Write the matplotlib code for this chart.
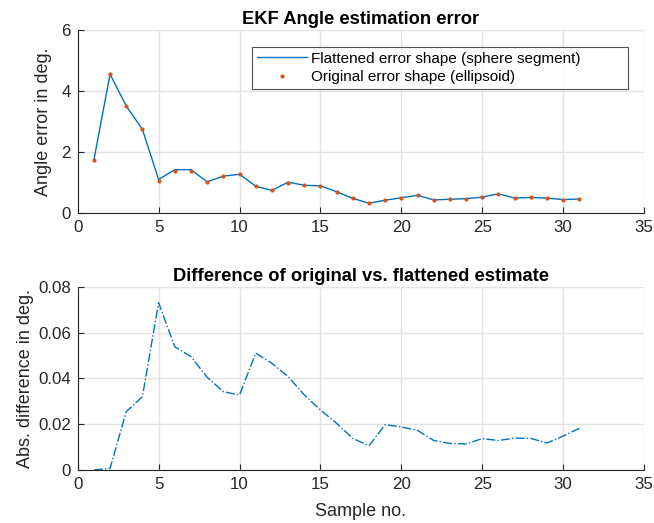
import matplotlib.pyplot as plt
import numpy as np

plt.rcParams['font.family'] = ['Liberation Sans', 'DejaVu Sans']

samples = np.arange(1, 32)

# flattened error shape (sphere segment), deg
flattened = [1.74, 4.55, 3.51, 2.74, 1.10, 1.42, 1.42, 1.02, 1.21, 1.27,
             0.88, 0.74, 1.01, 0.91, 0.89, 0.70, 0.48, 0.32, 0.42, 0.50,
             0.58, 0.43, 0.45, 0.47, 0.52, 0.63, 0.49, 0.51, 0.49, 0.44, 0.46]
# original error shape (ellipsoid), deg
original = [1.74, 4.55, 3.51, 2.74, 1.05, 1.38, 1.39, 1.02, 1.21, 1.27,
            0.875, 0.74, 1.00, 0.91, 0.89, 0.70, 0.48, 0.32, 0.42, 0.50,
            0.58, 0.43, 0.45, 0.47, 0.52, 0.63, 0.49, 0.51, 0.49, 0.44, 0.46]
# abs difference of original vs flattened estimate, deg
abs_diff = [0.0, 0.0007, 0.0255, 0.032, 0.073, 0.0538, 0.0495, 0.0405, 0.0342, 0.0327,
            0.051, 0.0466, 0.0408, 0.0328, 0.0262, 0.0204, 0.0138, 0.0106, 0.0198, 0.0188,
            0.0173, 0.0129, 0.0116, 0.0114, 0.0137, 0.0129, 0.0139, 0.0138, 0.0118, 0.0148, 0.0182]

blue = '#0072BD'
orange = '#D95319'
dark = '#262626'

fig = plt.figure(figsize=(6.54, 5.23), dpi=100)
ax1 = fig.add_axes([0.1188, 0.5927, 0.866, 0.35])
ax2 = fig.add_axes([0.1188, 0.1013, 0.866, 0.3505])


def style(ax):
    ax.grid(True, color='#e3e3e3', linewidth=1)
    ax.set_axisbelow(True)
    for s in ['top', 'right']:
        ax.spines[s].set_visible(False)
    for s in ['left', 'bottom']:
        ax.spines[s].set_color(dark)
        ax.spines[s].set_linewidth(0.8)
    ax.tick_params(direction='in', length=4, width=0.8, colors=dark,
                   labelsize=12.2, pad=5)
    ax.set_xlim(0, 35)
    ax.set_xticks(np.arange(0, 36, 5))


ax1.plot(samples, flattened, color=blue, linewidth=1,
         label='Flattened error shape (sphere segment)')
ax1.plot(samples, original, linestyle='none', marker='.', markersize=4,
         color=orange, label='Original error shape (ellipsoid)')
style(ax1)
ax1.set_ylim(0, 6)
ax1.set_yticks([0, 2, 4, 6])
ax1.set_ylabel('Angle error in deg.', fontsize=13, color=dark, labelpad=7)
ax1.set_title('EKF Angle estimation error', fontsize=13.2, fontweight='bold', pad=4)
leg = ax1.legend(loc='upper left', bbox_to_anchor=(0.308, 0.0, 0.664, 0.907),
                 mode='expand', fontsize=11,
                 frameon=True, fancybox=False, borderpad=0.3, labelspacing=0.3,
                 handlelength=3.3, handletextpad=0.25, borderaxespad=0)
leg.get_frame().set_edgecolor(dark)
leg.get_frame().set_linewidth(0.8)

ax2.plot(samples, abs_diff, color=blue, linewidth=1, linestyle='-.')
style(ax2)
ax2.set_ylim(0, 0.08)
ax2.set_yticks([0, 0.02, 0.04, 0.06, 0.08])
ax2.set_yticklabels(['0', '0.02', '0.04', '0.06', '0.08'])
ax2.set_ylabel('Abs. difference in deg.', fontsize=13, color=dark, labelpad=3)
ax2.set_xlabel('Sample no.', fontsize=13, color=dark, labelpad=8)
ax2.set_title('Difference of original vs. flattened estimate', fontsize=13.2,
              fontweight='bold', pad=4)

fig.savefig('out.png', dpi=100)
